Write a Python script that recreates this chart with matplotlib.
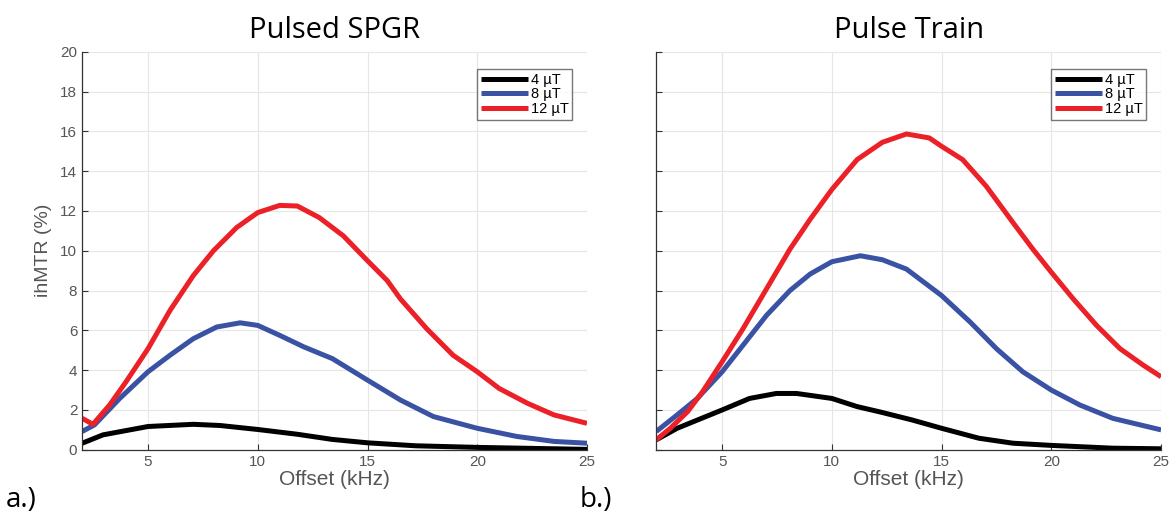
import matplotlib.pyplot as plt

# offset (kHz) and ihMTR (%)
spgr_x_4 = [2.0, 2.95, 5.0, 7.06, 8.28, 10.0, 11.8, 13.4, 15.0, 17.2, 20.0, 25.0]
spgr_y_4 = [0.33, 0.75, 1.17, 1.28, 1.22, 1.02, 0.78, 0.52, 0.35, 0.2, 0.12, 0.02]
spgr_x_8 = [2.0, 2.56, 3.71, 5.0, 6.0, 7.06, 8.13, 9.2, 10.0, 11.0, 12.1, 13.4, 15.0, 16.5, 18.0, 20.0, 21.8, 23.5, 25.0]
spgr_y_8 = [0.92, 1.25, 2.58, 3.92, 4.75, 5.58, 6.17, 6.38, 6.25, 5.75, 5.17, 4.58, 3.5, 2.5, 1.67, 1.08, 0.67, 0.42, 0.33]
spgr_x_12 = [2.0, 2.49, 3.25, 4.0, 5.0, 6.0, 7.06, 7.98, 9.04, 10.0, 11.0, 11.8, 12.8, 13.9, 15.0, 15.9,
             16.5, 17.7, 18.9, 20.0, 21.0, 22.3, 23.5, 25.0]
spgr_y_12 = [1.58, 1.28, 2.25, 3.42, 5.08, 7.0, 8.75, 10.0, 11.17, 11.92, 12.28, 12.25, 11.67, 10.75, 9.5, 8.5,
             7.58, 6.08, 4.75, 3.92, 3.08, 2.33, 1.75, 1.33]

train_x_4 = [2.0, 2.95, 5.0, 6.25, 7.47, 8.39, 10.0, 11.15, 12.2, 13.65, 15.0, 16.7, 18.25, 20.0, 22.8, 25.0]
train_y_4 = [0.5, 1.08, 2.0, 2.58, 2.83, 2.83, 2.58, 2.17, 1.9, 1.5, 1.08, 0.58, 0.33, 0.22, 0.08, 0.05]
train_x_8 = [2.0, 2.95, 3.87, 5.0, 5.95, 7.02, 8.09, 9.01, 10.0, 11.3, 12.3, 13.4, 15.0, 16.3, 17.5, 18.7,
             20.0, 21.3, 22.8, 25.0]
train_y_8 = [0.92, 1.75, 2.58, 3.92, 5.25, 6.75, 8.0, 8.83, 9.45, 9.75, 9.55, 9.08, 7.75, 6.42, 5.08, 3.92,
             3.0, 2.25, 1.58, 1.0]
train_x_12 = [2.0, 2.64, 3.43, 4.11, 5.0, 5.95, 7.02, 8.09, 9.01, 10.0, 11.15, 12.3, 13.4, 14.44, 15.0, 15.96,
              17.03, 18.25, 19.16, 20.0, 21.0, 22.06, 23.13, 24.19, 25.0]
train_y_12 = [0.5, 1.08, 1.92, 2.92, 4.42, 6.08, 8.08, 10.08, 11.58, 13.08, 14.58, 15.45, 15.87, 15.67, 15.25, 14.58,
              13.25, 11.42, 10.08, 8.92, 7.58, 6.25, 5.08, 4.25, 3.67]

labels = ["4 µT", "8 µT", "12 µT"]
colors = ["#000000", "#3a52a3", "#ec2127"]
gray = "#555555"

panels = [
    ("Pulsed SPGR", "a.)", [(spgr_x_4, spgr_y_4), (spgr_x_8, spgr_y_8), (spgr_x_12, spgr_y_12)]),
    ("Pulse Train", "b.)", [(train_x_4, train_y_4), (train_x_8, train_y_8), (train_x_12, train_y_12)]),
]

plt.rcParams["font.family"] = ["Liberation Sans", "DejaVu Sans"]

fig = plt.figure(figsize=(11.74, 5.23), dpi=100)
lefts = [0.070, 0.559]

for i, (title, tag, series) in enumerate(panels):
    ax = fig.add_axes([lefts[i], 0.140, 0.430, 0.761])
    for (xs, ys), lab, c in zip(series, labels, colors):
        ax.plot(xs, ys, color=c, lw=3.6, label=lab, solid_joinstyle="round", solid_capstyle="butt")

    ax.set_xlim(2, 25)
    ax.set_ylim(0, 20)
    ax.set_xticks([5, 10, 15, 20, 25])
    ax.set_yticks(range(0, 21, 2))
    ax.grid(True, color="#e6e6e6", lw=0.8)
    ax.set_axisbelow(True)
    for s in ["top", "right"]:
        ax.spines[s].set_visible(False)
    for s in ["left", "bottom"]:
        ax.spines[s].set_color("#333333")
        ax.spines[s].set_linewidth(0.9)
    ax.tick_params(direction="in", length=4, colors="#333333", labelcolor=gray, labelsize=11)
    if i == 1:
        ax.tick_params(labelleft=False)
    else:
        ax.set_ylabel("ihMTR (%)", color=gray, fontsize=14, labelpad=6)
    ax.set_xlabel("Offset (kHz)", color=gray, fontsize=15, labelpad=1)

    ax.set_title(title, fontsize=21, pad=10, family="Open Sans")
    fig.text(lefts[i] - 0.065, 0.03, tag, fontsize=20, family="Open Sans")

    leg = ax.legend(loc="upper right", fontsize=10.5, handlelength=3.2, handletextpad=0.2,
                    labelspacing=0.05, borderpad=0.25, fancybox=False,
                    bbox_to_anchor=(0.985, 0.975))
    leg.get_frame().set_edgecolor("#555555")
    leg.get_frame().set_linewidth(1.0)
    for ln in leg.get_lines():
        ln.set_linewidth(3.6)

fig.savefig("out.png", dpi=100)
